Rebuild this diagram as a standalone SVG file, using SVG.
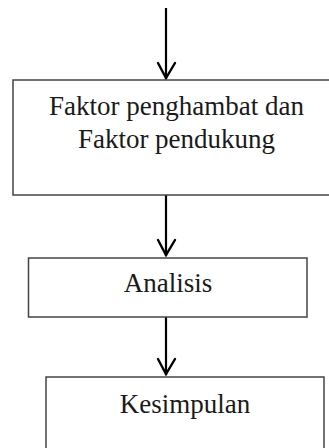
<svg xmlns="http://www.w3.org/2000/svg" width="329" height="448" viewBox="0 0 329 448">
<defs>
<style>
.box{fill:#fff;stroke:#444;stroke-width:1.5}
.lbl{font-family:"Liberation Serif","Times New Roman",serif;font-size:27px;fill:#1a1a1a;text-anchor:middle}
.conn{stroke:#000;stroke-width:2.2;fill:none}
.head{stroke:#000;stroke-width:2.4;fill:none;stroke-linecap:round;stroke-linejoin:miter}
</style>
</defs>
<rect width="329" height="448" fill="#fff"/>
<g id="connectors">
<line class="conn" x1="166" y1="8" x2="166" y2="79"/>
<polyline class="head" points="158,63 166,78 175,63"/>
<line class="conn" x1="166" y1="195" x2="166" y2="256"/>
<polyline class="head" points="158,240 166,255 175,240"/>
<line class="conn" x1="166" y1="317" x2="166" y2="375"/>
<polyline class="head" points="158,359 166,374 175,359"/>
</g>
<g id="node-faktor">
<rect class="box" x="13" y="80" width="330" height="115"/>
<text class="lbl" x="176.5" y="115">Faktor penghambat dan</text>
<text class="lbl" x="176.5" y="148">Faktor pendukung</text>
</g>
<g id="node-analisis">
<rect class="box" x="28.5" y="258" width="278.5" height="59"/>
<text class="lbl" x="168" y="291.5">Analisis</text>
</g>
<g id="node-kesimpulan">
<rect class="box" x="46" y="377" width="278" height="90"/>
<text class="lbl" x="185" y="412.5">Kesimpulan</text>
</g>
</svg>
